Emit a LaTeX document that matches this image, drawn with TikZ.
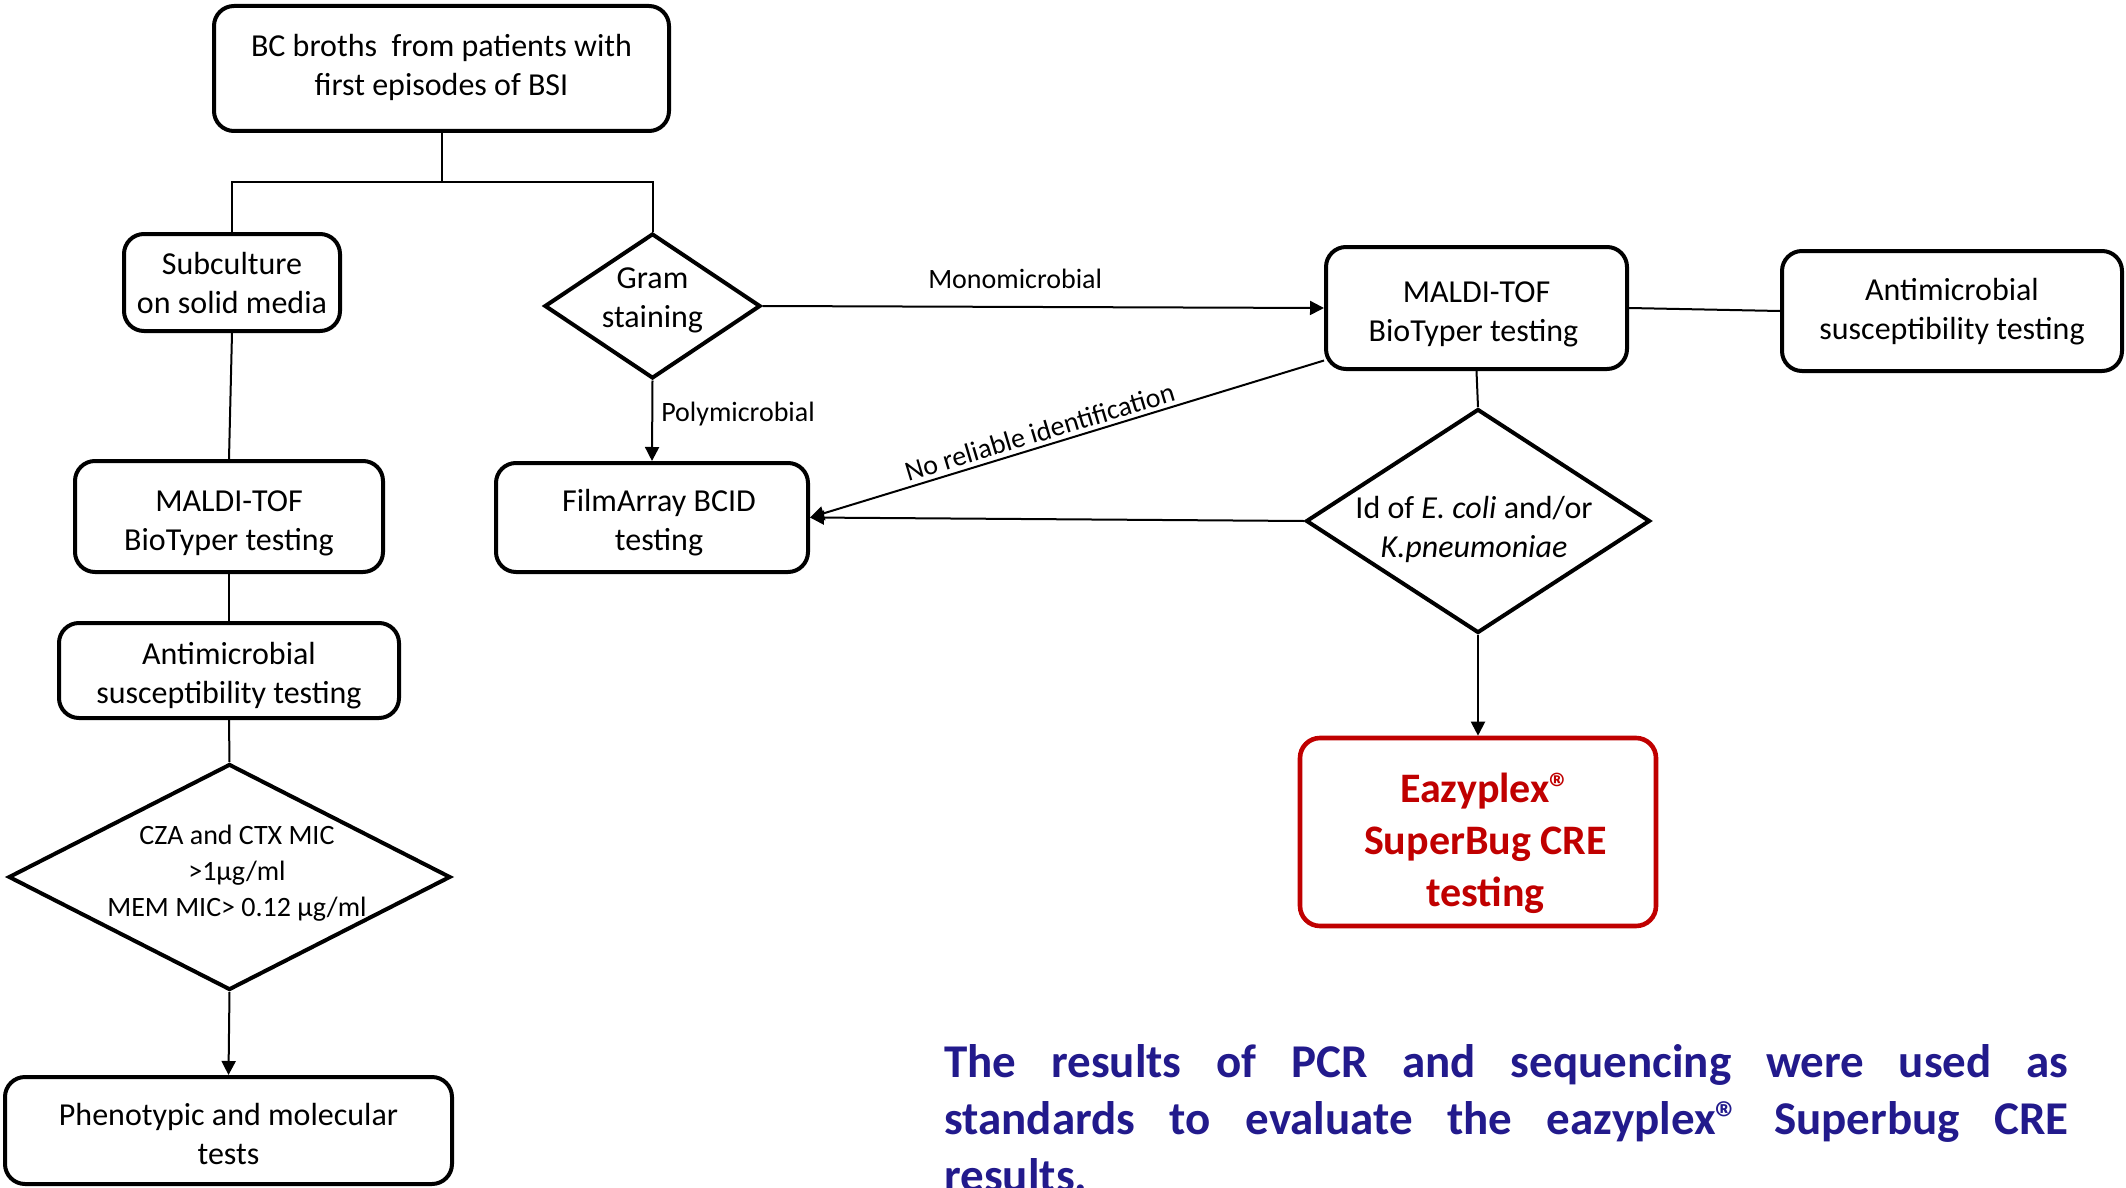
\documentclass[tikz,border=0pt]{standalone}
\usepackage{fontspec}
\setmainfont{Carlito}
\usetikzlibrary{shapes.geometric,arrows.meta,calc}
\definecolor{boxred}{RGB}{192,0,0}
\definecolor{txtblue}{RGB}{34,26,140}
\begin{document}
\begin{tikzpicture}[x=0.5pt,y=-0.5pt,
  box/.style={draw, line width=2pt, rounded corners=10pt, align=center,
    font=\fontsize{16}{19.5}\selectfont, inner sep=0pt, text height=36.9pt, text depth=3pt},
  dia/.style={draw, diamond, line width=2pt, inner sep=0pt},
  diatext/.style={align=center, inner sep=0pt},
  conn/.style={line width=1pt},
  arr/.style={line width=1pt, -{Triangle[length=7pt,width=7pt]}},
  lab/.style={font=\fontsize{14}{17}\selectfont, inner sep=1pt},
]
\fill[white] (0,0) rectangle (2126,1188);
\useasboundingbox (0,0) rectangle (2126,1188);

% boxes
\node[box, minimum width=227.5pt, minimum height=62.5pt, text height=30.1pt] (bc) at (441.5,68.5)
  {BC broths\ \ from patients with\\first episodes of BSI};
\node[box, minimum width=108pt, minimum height=48.5pt, text height=33.5pt] (sub) at (232,282.5)
  {Subculture\\on solid media};
\node[box, minimum width=150.5pt, minimum height=61pt] (mr) at (1476.5,308)
  {MALDI-TOF\\BioTyper testing\hspace*{3pt}};
\node[box, minimum width=170pt, minimum height=60pt, text height=31.5pt] (ar) at (1952,311)
  {Antimicrobial\\susceptibility testing};
\node[box, minimum width=156pt, minimum height=54.5pt, text height=35.5pt] (fa) at (652,517.5)
  {\hspace*{7pt}FilmArray BCID\\\hspace*{7pt}testing};
\node[box, minimum width=154pt, minimum height=55.5pt] (ml) at (229,516.5)
  {MALDI-TOF\\BioTyper testing};
\node[box, minimum width=170pt, minimum height=47.5pt, text height=35.5pt] (al) at (229,670.5)
  {Antimicrobial\\susceptibility testing};
\node[box, minimum width=223.5pt, minimum height=53.5pt] (ph) at (228.5,1130.5)
  {Phenotypic and molecular\\tests};
\node[box, draw=boxred, text=boxred, line width=2.3pt, minimum width=178pt, minimum height=94pt,
  text height=78.2pt, text depth=4pt,
  font=\bfseries\fontsize{21}{26}\selectfont] (eaz) at (1478,832)
  {\hspace*{7.5pt}Eazyplex®\\\hspace*{7.5pt}SuperBug CRE\\\hspace*{7.5pt}testing};

% diamonds
\node[dia, minimum width=108pt, minimum height=72.5pt] (gram) at (652.5,306) {};
\node[diatext, font=\fontsize{16}{19.5}\selectfont] (gramt) at (652.5,300) {Gram\\staining};
\node[dia, minimum width=221pt, minimum height=113pt] (cza) at (229.5,877) {};
\node[diatext, font=\fontsize{14}{18}\selectfont] (czat) at (237,873)
  {CZA and CTX MIC\\>1µg/ml\\MEM MIC> 0.12 µg/ml};
\node[dia, minimum width=172pt, minimum height=112pt] (id) at (1478,521) {};
\node[diatext, font=\fontsize{16}{19.5}\selectfont] (idt) at (1474,529)
  {Id of \textit{E. coli} and/or\\\textit{K.pneumoniae}};

% connectors
\draw[conn] (bc.south) -- ++(0,48.5) coordinate (split);
\draw[conn] (split) -| (sub.north);
\draw[conn] (split) -| (gram.north);
\draw[conn] (sub.south) -- (ml.north);
\draw[conn] (ml.south) -- (al.north);
\draw[conn] (al.south) -- (cza.north);
\draw[arr] (cza.south) -- (ph.north);
\draw[arr] (gram.east) -- node[lab, pos=0.45, above=7.5pt] (monolab) {Monomicrobial} (mr.west);
\draw[arr] (gram.south) -- node[lab, pos=0.42, right=3pt] (polylab) {Polymicrobial} (fa.north);
\draw[arr] (id.west) -- (fa.east);
\draw[arr] (mr.199) -- node[lab, pos=0.545, anchor=south, rotate=16.8, inner sep=2pt] (nrlab)
  {No reliable identification} (fa.east);
\draw[conn] (mr.east) -- (ar.west);
\draw[conn] (mr.south) -- (id.north);
\draw[arr] (id.south) -- (eaz.north);

% note
\node[anchor=base west, text width=562pt, align=justify, inner sep=0pt, text=txtblue,
  font=\bfseries\fontsize{23.5}{28.5}\selectfont] (note) at (944,1077)
  {The results of PCR and sequencing were used as\linebreak
   standards to evaluate the eazyplex® Superbug CRE\linebreak
   results.};
\end{tikzpicture}
\end{document}
